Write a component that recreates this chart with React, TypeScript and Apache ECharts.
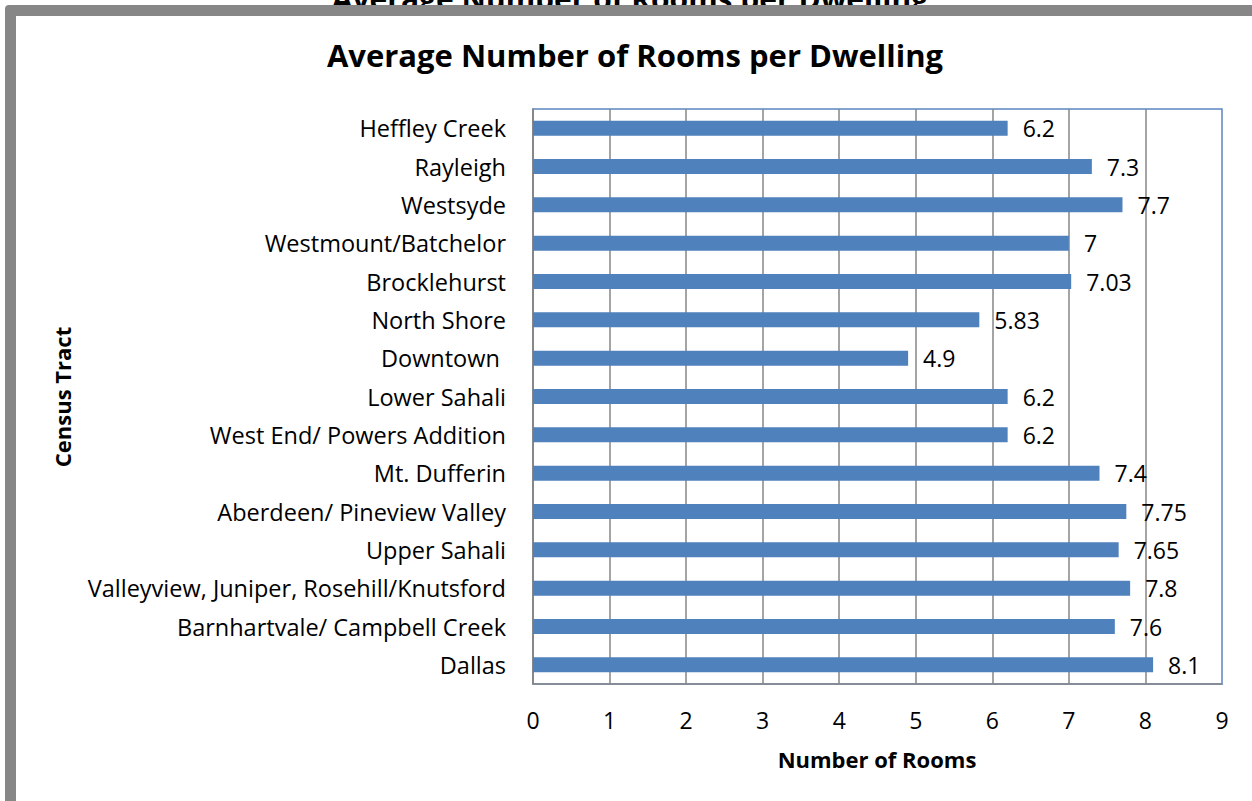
import React, { useEffect, useRef } from "react";
import * as echarts from "echarts";

const chartTitle = "Average Number of Rooms per Dwelling";
const xAxisTitle = "Number of Rooms";
const yAxisTitle = "Census Tract";
const categories = [
  "Heffley Creek",
  "Rayleigh",
  "Westsyde",
  "Westmount/Batchelor",
  "Brocklehurst",
  "North Shore",
  "Downtown ",
  "Lower Sahali",
  "West End/ Powers Addition",
  "Mt. Dufferin",
  "Aberdeen/ Pineview Valley",
  "Upper Sahali",
  "Valleyview, Juniper, Rosehill/Knutsford",
  "Barnhartvale/ Campbell Creek",
  "Dallas",
];
const rooms = [6.2, 7.3, 7.7, 7, 7.03, 5.83, 4.9, 6.2, 6.2, 7.4, 7.75, 7.65, 7.8, 7.6, 8.1];
const xMin = 0;
const xMax = 9;
const xStep = 1;

const FONT = "'Open Sans', 'Noto Sans', sans-serif";

export default function App() {
  const ref = useRef<HTMLDivElement>(null);
  useEffect(() => {
    if (!ref.current) return;
    const chart = echarts.init(ref.current, null, { renderer: "svg" });
    chart.setOption({
      animation: false,
      backgroundColor: "#ffffff",
      textStyle: { fontFamily: FONT },
      graphic: [
        {
          type: "text",
          z: 1,
          x: 630,
          y: 13,
          style: {
            text: chartTitle,
            fontFamily: FONT,
            fontWeight: "bold",
            fontSize: 30,
            fill: "#000",
            align: "center",
            verticalAlign: "bottom",
          },
        },
        {
          type: "rect",
          z: 2,
          shape: { x: 5, y: 5, width: 1300, height: 850, r: 4 },
          style: { fill: "#878787" },
        },
        {
          type: "rect",
          z: 3,
          shape: { x: 16, y: 16, width: 1300, height: 850 },
          style: { fill: "#ffffff" },
        },
        {
          type: "text",
          z: 4,
          x: 635,
          y: 55,
          style: {
            text: chartTitle,
            fontFamily: FONT,
            fontWeight: "bold",
            fontSize: 31,
            fill: "#000",
            align: "center",
            verticalAlign: "middle",
          },
        },
        {
          type: "text",
          z: 4,
          x: 62,
          y: 397,
          rotation: Math.PI / 2,
          style: {
            text: yAxisTitle,
            fontFamily: FONT,
            fontWeight: "bold",
            fontSize: 22,
            fill: "#000",
            align: "center",
            verticalAlign: "middle",
          },
        },
        {
          type: "text",
          z: 4,
          x: 877,
          y: 759,
          style: {
            text: xAxisTitle,
            fontFamily: FONT,
            fontWeight: "bold",
            fontSize: 22,
            fill: "#000",
            align: "center",
            verticalAlign: "middle",
          },
        },
      ],
      grid: {
        left: 533,
        right: 30,
        top: 109,
        bottom: 117,
        show: true,
        z: 5,
        backgroundColor: "transparent",
        borderColor: "#5B86C0",
        borderWidth: 1.5,
      },
      xAxis: {
        type: "value",
        min: xMin,
        max: xMax,
        interval: xStep,
        z: 6,
        axisLine: { show: true, lineStyle: { color: "#868686", width: 1.5 } },
        axisTick: { show: false },
        splitLine: { show: true, showMaxLine: false, lineStyle: { color: "#868686", width: 1.5 } },
        axisLabel: { color: "#000", fontSize: 23, margin: 24, fontFamily: FONT },
      },
      yAxis: {
        type: "category",
        data: categories,
        inverse: true,
        z: 6,
        axisLine: { show: true, lineStyle: { color: "#868686", width: 1.5 } },
        axisTick: { show: false },
        splitLine: { show: false },
        axisLabel: { color: "#000", fontSize: 23.5, margin: 27, fontFamily: FONT },
      },
      series: [
        {
          type: "bar",
          data: rooms,
          barWidth: 15,
          z: 7,
          itemStyle: { color: "#4F81BD" },
          label: {
            show: true,
            position: "right",
            distance: 15,
            color: "#000",
            fontSize: 23,
            fontFamily: FONT,
          },
        },
      ],
    });
    return () => chart.dispose();
  }, []);
  return (
    <div
      ref={ref}
      style={{ position: "absolute", left: 0, top: 0, width: 1252, height: 801 }}
    />
  );
}
